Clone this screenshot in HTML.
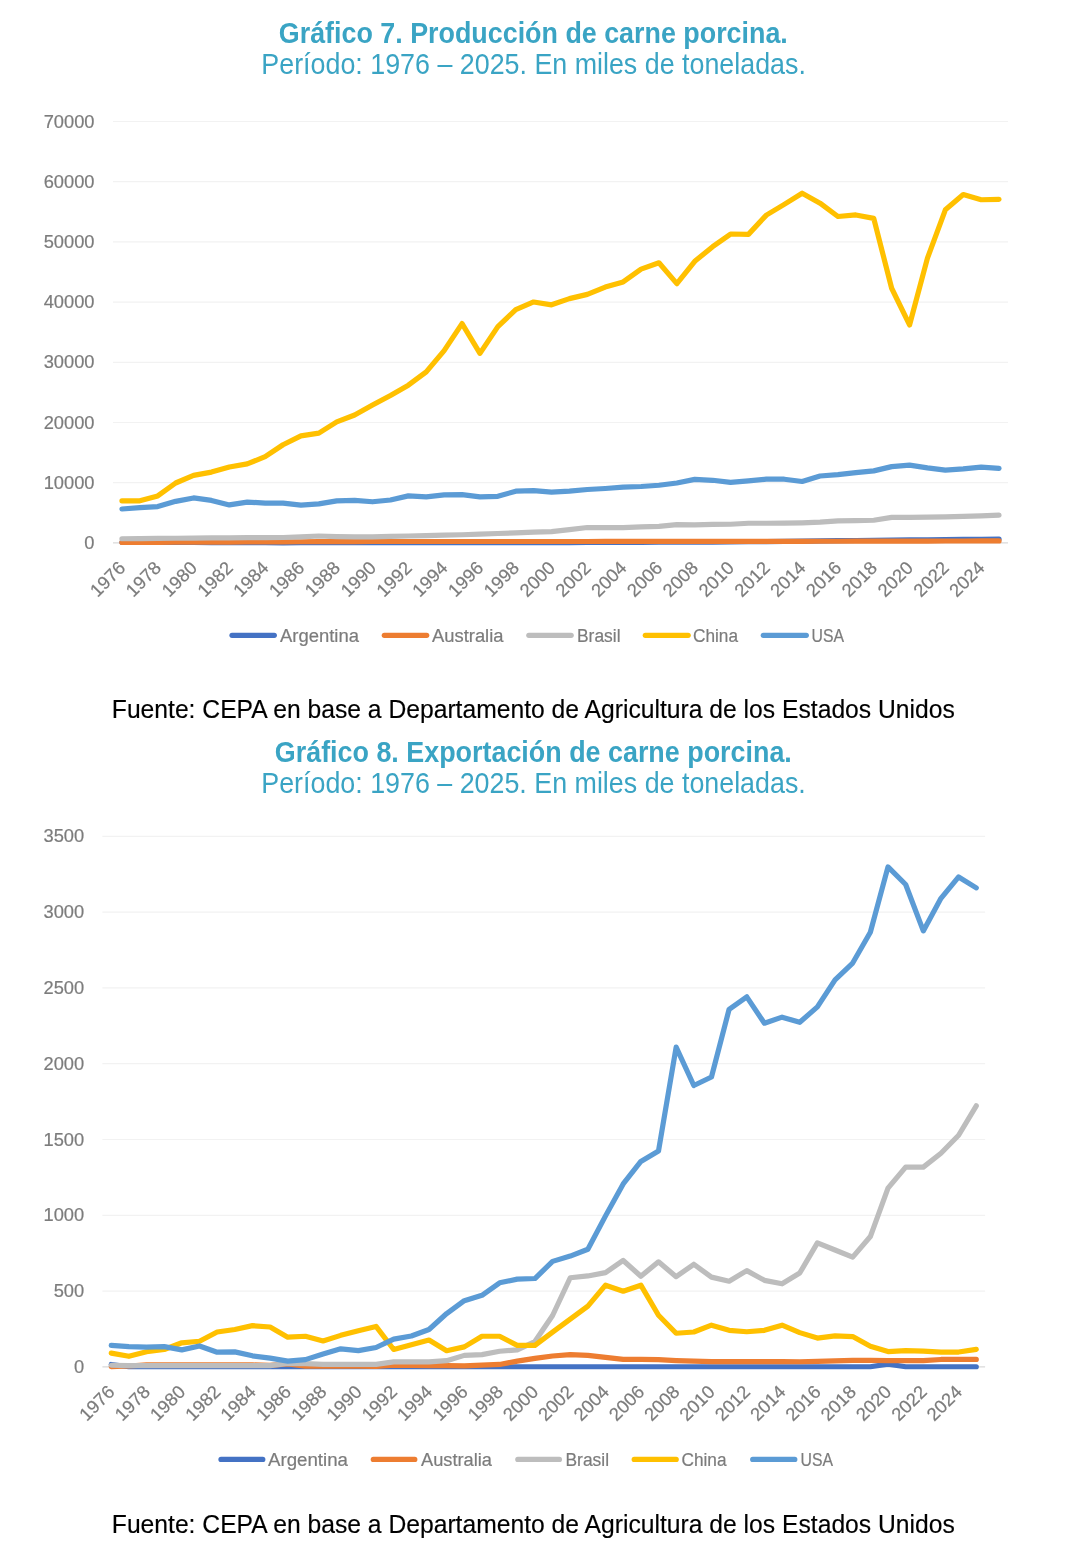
<!DOCTYPE html>
<html><head><meta charset="utf-8"><title>Gráficos carne porcina</title>
<style>html,body{margin:0;padding:0;background:#fff;} svg{display:block;will-change:transform;}</style>
</head><body>
<svg width="1072" height="1549" viewBox="0 0 1072 1549">
<style>
.t { font-family: "Liberation Sans", sans-serif; fill: #3aa4c4; }
.ax { font-family: "Liberation Sans", sans-serif; font-size: 18.3px; fill: #7c7c7c; stroke: #7c7c7c; stroke-width: 0.2px; }
.lg { font-family: "Liberation Sans", sans-serif; font-size: 18px; fill: #7c7c7c; stroke: #7c7c7c; stroke-width: 0.2px; }
.fn { font-family: "Liberation Sans", sans-serif; font-size: 24.7px; fill: #000; stroke: #000; stroke-width: 0.15px; }
</style>
<rect width="1072" height="1549" fill="#fff"/>
<text transform="translate(533.3,42.8) scale(1,1.07)" text-anchor="middle" class="t" font-weight="bold" font-size="26.7" textLength="509" lengthAdjust="spacingAndGlyphs">Gráfico 7. Producción de carne porcina.</text>
<text transform="translate(533.6,74) scale(1,1.09)" text-anchor="middle" class="t" font-size="26.9" textLength="544.5" lengthAdjust="spacingAndGlyphs">Período: 1976 – 2025. En miles de toneladas.</text>
<line x1="113" y1="542.9" x2="1008" y2="542.9" stroke="#d9d9d9" stroke-width="1.2"/>
<text x="94.5" y="548.9" text-anchor="end" class="ax">0</text>
<line x1="113" y1="482.7" x2="1008" y2="482.7" stroke="#f2f2f2" stroke-width="1.2"/>
<text x="94.5" y="488.7" text-anchor="end" class="ax">10000</text>
<line x1="113" y1="422.5" x2="1008" y2="422.5" stroke="#f2f2f2" stroke-width="1.2"/>
<text x="94.5" y="428.5" text-anchor="end" class="ax">20000</text>
<line x1="113" y1="362.3" x2="1008" y2="362.3" stroke="#f2f2f2" stroke-width="1.2"/>
<text x="94.5" y="368.3" text-anchor="end" class="ax">30000</text>
<line x1="113" y1="302.1" x2="1008" y2="302.1" stroke="#f2f2f2" stroke-width="1.2"/>
<text x="94.5" y="308.1" text-anchor="end" class="ax">40000</text>
<line x1="113" y1="241.9" x2="1008" y2="241.9" stroke="#f2f2f2" stroke-width="1.2"/>
<text x="94.5" y="247.9" text-anchor="end" class="ax">50000</text>
<line x1="113" y1="181.7" x2="1008" y2="181.7" stroke="#f2f2f2" stroke-width="1.2"/>
<text x="94.5" y="187.7" text-anchor="end" class="ax">60000</text>
<line x1="113" y1="121.5" x2="1008" y2="121.5" stroke="#f2f2f2" stroke-width="1.2"/>
<text x="94.5" y="127.5" text-anchor="end" class="ax">70000</text>
<text transform="translate(126.55,568.9) rotate(-45)" text-anchor="end" class="ax" textLength="41" lengthAdjust="spacingAndGlyphs">1976</text>
<text transform="translate(162.35,568.9) rotate(-45)" text-anchor="end" class="ax" textLength="41" lengthAdjust="spacingAndGlyphs">1978</text>
<text transform="translate(198.15,568.9) rotate(-45)" text-anchor="end" class="ax" textLength="41" lengthAdjust="spacingAndGlyphs">1980</text>
<text transform="translate(233.95,568.9) rotate(-45)" text-anchor="end" class="ax" textLength="41" lengthAdjust="spacingAndGlyphs">1982</text>
<text transform="translate(269.75,568.9) rotate(-45)" text-anchor="end" class="ax" textLength="41" lengthAdjust="spacingAndGlyphs">1984</text>
<text transform="translate(305.55,568.9) rotate(-45)" text-anchor="end" class="ax" textLength="41" lengthAdjust="spacingAndGlyphs">1986</text>
<text transform="translate(341.35,568.9) rotate(-45)" text-anchor="end" class="ax" textLength="41" lengthAdjust="spacingAndGlyphs">1988</text>
<text transform="translate(377.15,568.9) rotate(-45)" text-anchor="end" class="ax" textLength="41" lengthAdjust="spacingAndGlyphs">1990</text>
<text transform="translate(412.95,568.9) rotate(-45)" text-anchor="end" class="ax" textLength="41" lengthAdjust="spacingAndGlyphs">1992</text>
<text transform="translate(448.75,568.9) rotate(-45)" text-anchor="end" class="ax" textLength="41" lengthAdjust="spacingAndGlyphs">1994</text>
<text transform="translate(484.55,568.9) rotate(-45)" text-anchor="end" class="ax" textLength="41" lengthAdjust="spacingAndGlyphs">1996</text>
<text transform="translate(520.35,568.9) rotate(-45)" text-anchor="end" class="ax" textLength="41" lengthAdjust="spacingAndGlyphs">1998</text>
<text transform="translate(556.15,568.9) rotate(-45)" text-anchor="end" class="ax" textLength="41" lengthAdjust="spacingAndGlyphs">2000</text>
<text transform="translate(591.95,568.9) rotate(-45)" text-anchor="end" class="ax" textLength="41" lengthAdjust="spacingAndGlyphs">2002</text>
<text transform="translate(627.75,568.9) rotate(-45)" text-anchor="end" class="ax" textLength="41" lengthAdjust="spacingAndGlyphs">2004</text>
<text transform="translate(663.55,568.9) rotate(-45)" text-anchor="end" class="ax" textLength="41" lengthAdjust="spacingAndGlyphs">2006</text>
<text transform="translate(699.35,568.9) rotate(-45)" text-anchor="end" class="ax" textLength="41" lengthAdjust="spacingAndGlyphs">2008</text>
<text transform="translate(735.15,568.9) rotate(-45)" text-anchor="end" class="ax" textLength="41" lengthAdjust="spacingAndGlyphs">2010</text>
<text transform="translate(770.95,568.9) rotate(-45)" text-anchor="end" class="ax" textLength="41" lengthAdjust="spacingAndGlyphs">2012</text>
<text transform="translate(806.75,568.9) rotate(-45)" text-anchor="end" class="ax" textLength="41" lengthAdjust="spacingAndGlyphs">2014</text>
<text transform="translate(842.55,568.9) rotate(-45)" text-anchor="end" class="ax" textLength="41" lengthAdjust="spacingAndGlyphs">2016</text>
<text transform="translate(878.35,568.9) rotate(-45)" text-anchor="end" class="ax" textLength="41" lengthAdjust="spacingAndGlyphs">2018</text>
<text transform="translate(914.15,568.9) rotate(-45)" text-anchor="end" class="ax" textLength="41" lengthAdjust="spacingAndGlyphs">2020</text>
<text transform="translate(949.95,568.9) rotate(-45)" text-anchor="end" class="ax" textLength="41" lengthAdjust="spacingAndGlyphs">2022</text>
<text transform="translate(985.75,568.9) rotate(-45)" text-anchor="end" class="ax" textLength="41" lengthAdjust="spacingAndGlyphs">2024</text>
<polyline points="121.95,542.3 139.85,542.35 157.75,542.4 175.65,542.46 193.55,542.51 211.45,542.56 229.35,542.62 247.25,542.67 265.15,542.72 283.05,542.78 300.95,542.77 318.85,542.75 336.75,542.74 354.65,542.73 372.55,542.72 390.45,542.71 408.35,542.69 426.25,542.68 444.15,542.67 462.05,542.66 479.95,542.65 497.85,542.63 515.75,542.62 533.65,542.61 551.55,542.6 569.45,542.54 587.35,542.48 605.25,542.42 623.15,542.36 641.05,542.3 658.95,542.24 676.85,542.18 694.75,542.12 712.65,542.06 730.55,542 748.45,541.77 766.35,541.54 784.25,541.32 802.15,541.09 820.05,540.89 837.95,540.69 855.85,540.49 873.75,540.29 891.65,540.09 909.55,539.89 927.45,539.74 945.35,539.6 963.25,539.45 981.15,539.31 999.05,539.17" fill="none" stroke="#4472c4" stroke-width="5.2" stroke-linejoin="round" stroke-linecap="round"/>
<polyline points="121.95,542.42 139.85,542.35 157.75,542.29 175.65,542.22 193.55,542.16 211.45,542.09 229.35,542.03 247.25,541.96 265.15,541.9 283.05,541.84 300.95,541.77 318.85,541.71 336.75,541.64 354.65,541.58 372.55,541.51 390.45,541.51 408.35,541.51 426.25,541.5 444.15,541.5 462.05,541.5 479.95,541.5 497.85,541.49 515.75,541.49 533.65,541.49 551.55,541.48 569.45,541.48 587.35,541.48 605.25,541.47 623.15,541.47 641.05,541.47 658.95,541.47 676.85,541.46 694.75,541.46 712.65,541.46 730.55,541.45 748.45,541.42 766.35,541.38 784.25,541.34 802.15,541.31 820.05,541.27 837.95,541.24 855.85,541.2 873.75,541.16 891.65,541.13 909.55,541.09 927.45,541.06 945.35,541.02 963.25,540.98 981.15,540.95 999.05,540.91" fill="none" stroke="#ed7d31" stroke-width="5.2" stroke-linejoin="round" stroke-linecap="round"/>
<polyline points="121.95,538.74 139.85,538.58 157.75,538.41 175.65,538.25 193.55,538.08 211.45,537.96 229.35,537.84 247.25,537.72 265.15,537.6 283.05,537.48 300.95,536.88 318.85,535.98 336.75,536.58 354.65,536.88 372.55,536.88 390.45,536.4 408.35,535.99 426.25,535.58 444.15,535.18 462.05,534.77 479.95,534.13 497.85,533.49 515.75,532.86 533.65,532.22 551.55,531.58 569.45,529.59 587.35,527.49 605.25,527.67 623.15,527.55 641.05,526.88 658.95,526.34 676.85,524.6 694.75,524.84 712.65,524.3 730.55,524.24 748.45,523.27 766.35,523.27 784.25,523.15 802.15,522.79 820.05,522.07 837.95,520.8 855.85,520.62 873.75,520.26 891.65,517.43 909.55,517.31 927.45,517.13 945.35,516.83 963.25,516.41 981.15,515.81 999.05,515.09" fill="none" stroke="#bdbdbd" stroke-width="5.2" stroke-linejoin="round" stroke-linecap="round"/>
<polyline points="121.95,500.82 139.85,500.82 157.75,495.94 175.65,483 193.55,475.41 211.45,472.1 229.35,467.05 247.25,463.92 265.15,456.69 283.05,444.77 300.95,435.86 318.85,433.09 336.75,421.9 354.65,414.97 372.55,405.04 390.45,395.47 408.35,385.17 426.25,371.87 444.15,350.62 462.05,323.59 479.95,353.33 497.85,326.6 515.75,309.62 533.65,301.98 551.55,304.81 569.45,298.61 587.35,294.39 605.25,287.05 623.15,281.93 641.05,269.11 658.95,262.79 676.85,283.68 694.75,261.28 712.65,246.71 730.55,234.01 748.45,234.37 766.35,215.11 784.25,204.39 802.15,193.2 820.05,203.19 837.95,216.49 855.85,214.93 873.75,218.42 891.65,288.25 909.55,324.97 927.45,258.15 945.35,209.81 963.25,194.58 981.15,199.76 999.05,199.28" fill="none" stroke="#ffc000" stroke-width="5.2" stroke-linejoin="round" stroke-linecap="round"/>
<polyline points="121.95,509.01 139.85,507.62 157.75,506.6 175.65,501.36 193.55,497.93 211.45,500.4 229.35,504.91 247.25,502.08 265.15,503.11 283.05,503.11 300.95,505.09 318.85,503.89 336.75,500.82 354.65,500.4 372.55,501.78 390.45,499.98 408.35,495.88 426.25,496.91 444.15,494.86 462.05,494.68 479.95,496.91 497.85,496.3 515.75,491.19 533.65,490.58 551.55,492.21 569.45,491.19 587.35,489.5 605.25,488.48 623.15,487.09 641.05,486.49 658.95,485.23 676.85,483 694.75,479.33 712.65,480.29 730.55,482.4 748.45,480.89 766.35,479.21 784.25,479.21 802.15,481.49 820.05,476.02 837.95,474.69 855.85,472.7 873.75,470.9 891.65,466.62 909.55,465.12 927.45,467.89 945.35,470.18 963.25,468.91 981.15,467.11 999.05,468.43" fill="none" stroke="#5b9bd5" stroke-width="5.2" stroke-linejoin="round" stroke-linecap="round"/>
<line x1="232" y1="635.3" x2="274.3" y2="635.3" stroke="#4472c4" stroke-width="5.2" stroke-linecap="round"/>
<text x="280" y="642.3" class="lg" textLength="79" lengthAdjust="spacingAndGlyphs">Argentina</text>
<line x1="384.3" y1="635.3" x2="426.7" y2="635.3" stroke="#ed7d31" stroke-width="5.2" stroke-linecap="round"/>
<text x="432" y="642.3" class="lg" textLength="71.5" lengthAdjust="spacingAndGlyphs">Australia</text>
<line x1="528.8" y1="635.3" x2="571.2" y2="635.3" stroke="#bdbdbd" stroke-width="5.2" stroke-linecap="round"/>
<text x="577" y="642.3" class="lg" textLength="43.5" lengthAdjust="spacingAndGlyphs">Brasil</text>
<line x1="645.3" y1="635.3" x2="688.2" y2="635.3" stroke="#ffc000" stroke-width="5.2" stroke-linecap="round"/>
<text x="693" y="642.3" class="lg" textLength="45" lengthAdjust="spacingAndGlyphs">China</text>
<line x1="763.3" y1="635.3" x2="806.3" y2="635.3" stroke="#5b9bd5" stroke-width="5.2" stroke-linecap="round"/>
<text x="811.5" y="642.3" class="lg" textLength="32.5" lengthAdjust="spacingAndGlyphs">USA</text>
<text transform="translate(533.3,717.8) scale(1,1.05)" text-anchor="middle" class="fn" textLength="843" lengthAdjust="spacingAndGlyphs">Fuente: CEPA en base a Departamento de Agricultura de los Estados Unidos</text>
<text transform="translate(533.3,761.9) scale(1,1.07)" text-anchor="middle" class="t" font-weight="bold" font-size="26.7" textLength="517" lengthAdjust="spacingAndGlyphs">Gráfico 8. Exportación de carne porcina.</text>
<text transform="translate(533.5,792.8) scale(1,1.09)" text-anchor="middle" class="t" font-size="26.9" textLength="544.5" lengthAdjust="spacingAndGlyphs">Período: 1976 – 2025. En miles de toneladas.</text>
<line x1="102.4" y1="1366.9" x2="985.1" y2="1366.9" stroke="#d9d9d9" stroke-width="1.2"/>
<text x="84.2" y="1372.9" text-anchor="end" class="ax">0</text>
<line x1="102.4" y1="1291.1" x2="985.1" y2="1291.1" stroke="#f2f2f2" stroke-width="1.2"/>
<text x="84.2" y="1297.1" text-anchor="end" class="ax">500</text>
<line x1="102.4" y1="1215.3" x2="985.1" y2="1215.3" stroke="#f2f2f2" stroke-width="1.2"/>
<text x="84.2" y="1221.3" text-anchor="end" class="ax">1000</text>
<line x1="102.4" y1="1139.5" x2="985.1" y2="1139.5" stroke="#f2f2f2" stroke-width="1.2"/>
<text x="84.2" y="1145.5" text-anchor="end" class="ax">1500</text>
<line x1="102.4" y1="1063.7" x2="985.1" y2="1063.7" stroke="#f2f2f2" stroke-width="1.2"/>
<text x="84.2" y="1069.7" text-anchor="end" class="ax">2000</text>
<line x1="102.4" y1="987.9" x2="985.1" y2="987.9" stroke="#f2f2f2" stroke-width="1.2"/>
<text x="84.2" y="993.9" text-anchor="end" class="ax">2500</text>
<line x1="102.4" y1="912.1" x2="985.1" y2="912.1" stroke="#f2f2f2" stroke-width="1.2"/>
<text x="84.2" y="918.1" text-anchor="end" class="ax">3000</text>
<line x1="102.4" y1="836.3" x2="985.1" y2="836.3" stroke="#f2f2f2" stroke-width="1.2"/>
<text x="84.2" y="842.3" text-anchor="end" class="ax">3500</text>
<text transform="translate(115.83,1392.9) rotate(-45)" text-anchor="end" class="ax" textLength="41" lengthAdjust="spacingAndGlyphs">1976</text>
<text transform="translate(151.13,1392.9) rotate(-45)" text-anchor="end" class="ax" textLength="41" lengthAdjust="spacingAndGlyphs">1978</text>
<text transform="translate(186.44,1392.9) rotate(-45)" text-anchor="end" class="ax" textLength="41" lengthAdjust="spacingAndGlyphs">1980</text>
<text transform="translate(221.75,1392.9) rotate(-45)" text-anchor="end" class="ax" textLength="41" lengthAdjust="spacingAndGlyphs">1982</text>
<text transform="translate(257.06,1392.9) rotate(-45)" text-anchor="end" class="ax" textLength="41" lengthAdjust="spacingAndGlyphs">1984</text>
<text transform="translate(292.37,1392.9) rotate(-45)" text-anchor="end" class="ax" textLength="41" lengthAdjust="spacingAndGlyphs">1986</text>
<text transform="translate(327.68,1392.9) rotate(-45)" text-anchor="end" class="ax" textLength="41" lengthAdjust="spacingAndGlyphs">1988</text>
<text transform="translate(362.98,1392.9) rotate(-45)" text-anchor="end" class="ax" textLength="41" lengthAdjust="spacingAndGlyphs">1990</text>
<text transform="translate(398.29,1392.9) rotate(-45)" text-anchor="end" class="ax" textLength="41" lengthAdjust="spacingAndGlyphs">1992</text>
<text transform="translate(433.6,1392.9) rotate(-45)" text-anchor="end" class="ax" textLength="41" lengthAdjust="spacingAndGlyphs">1994</text>
<text transform="translate(468.91,1392.9) rotate(-45)" text-anchor="end" class="ax" textLength="41" lengthAdjust="spacingAndGlyphs">1996</text>
<text transform="translate(504.22,1392.9) rotate(-45)" text-anchor="end" class="ax" textLength="41" lengthAdjust="spacingAndGlyphs">1998</text>
<text transform="translate(539.52,1392.9) rotate(-45)" text-anchor="end" class="ax" textLength="41" lengthAdjust="spacingAndGlyphs">2000</text>
<text transform="translate(574.83,1392.9) rotate(-45)" text-anchor="end" class="ax" textLength="41" lengthAdjust="spacingAndGlyphs">2002</text>
<text transform="translate(610.14,1392.9) rotate(-45)" text-anchor="end" class="ax" textLength="41" lengthAdjust="spacingAndGlyphs">2004</text>
<text transform="translate(645.45,1392.9) rotate(-45)" text-anchor="end" class="ax" textLength="41" lengthAdjust="spacingAndGlyphs">2006</text>
<text transform="translate(680.75,1392.9) rotate(-45)" text-anchor="end" class="ax" textLength="41" lengthAdjust="spacingAndGlyphs">2008</text>
<text transform="translate(716.06,1392.9) rotate(-45)" text-anchor="end" class="ax" textLength="41" lengthAdjust="spacingAndGlyphs">2010</text>
<text transform="translate(751.37,1392.9) rotate(-45)" text-anchor="end" class="ax" textLength="41" lengthAdjust="spacingAndGlyphs">2012</text>
<text transform="translate(786.68,1392.9) rotate(-45)" text-anchor="end" class="ax" textLength="41" lengthAdjust="spacingAndGlyphs">2014</text>
<text transform="translate(821.99,1392.9) rotate(-45)" text-anchor="end" class="ax" textLength="41" lengthAdjust="spacingAndGlyphs">2016</text>
<text transform="translate(857.29,1392.9) rotate(-45)" text-anchor="end" class="ax" textLength="41" lengthAdjust="spacingAndGlyphs">2018</text>
<text transform="translate(892.6,1392.9) rotate(-45)" text-anchor="end" class="ax" textLength="41" lengthAdjust="spacingAndGlyphs">2020</text>
<text transform="translate(927.91,1392.9) rotate(-45)" text-anchor="end" class="ax" textLength="41" lengthAdjust="spacingAndGlyphs">2022</text>
<text transform="translate(963.22,1392.9) rotate(-45)" text-anchor="end" class="ax" textLength="41" lengthAdjust="spacingAndGlyphs">2024</text>
<polyline points="111.23,1364.47 128.88,1366.74 146.53,1366.74 164.19,1366.74 181.84,1366.74 199.5,1366.74 217.15,1366.74 234.81,1366.74 252.46,1366.74 270.11,1366.74 287.77,1366.74 305.42,1366.74 323.08,1366.74 340.73,1366.74 358.38,1366.74 376.04,1366.74 393.69,1366.74 411.35,1366.74 429,1366.74 446.65,1366.74 464.31,1366.74 481.96,1366.74 499.62,1366.74 517.27,1366.74 534.92,1366.74 552.58,1366.74 570.23,1366.74 587.88,1366.74 605.54,1366.74 623.19,1366.74 640.85,1366.74 658.5,1366.74 676.15,1366.74 693.81,1366.74 711.46,1366.74 729.12,1366.74 746.77,1366.74 764.42,1366.74 782.08,1366.74 799.73,1366.74 817.39,1366.74 835.04,1366.74 852.69,1366.74 870.35,1366.74 888,1364.16 905.66,1366.74 923.31,1366.74 940.96,1366.74 958.62,1366.74 976.27,1366.74" fill="none" stroke="#4472c4" stroke-width="5.2" stroke-linejoin="round" stroke-linecap="round"/>
<polyline points="111.23,1366.74 128.88,1365.98 146.53,1364.92 164.19,1364.92 181.84,1364.92 199.5,1364.92 217.15,1364.92 234.81,1364.92 252.46,1364.92 270.11,1365.38 287.77,1363.86 305.42,1366.14 323.08,1366.17 340.73,1366.21 358.38,1366.25 376.04,1366.29 393.69,1365.23 411.35,1365.38 429,1365.53 446.65,1365.68 464.31,1365.83 481.96,1365.15 499.62,1364.47 517.27,1361.13 534.92,1358.4 552.58,1355.98 570.23,1354.61 587.88,1355.37 605.54,1357.34 623.19,1359.31 640.85,1359.31 658.5,1359.62 676.15,1360.53 693.81,1361.13 711.46,1361.59 729.12,1361.62 746.77,1361.65 764.42,1361.68 782.08,1361.71 799.73,1361.74 817.39,1361.28 835.04,1360.83 852.69,1360.37 870.35,1360.45 888,1360.53 905.66,1360.6 923.31,1360.68 940.96,1359.47 958.62,1359.47 976.27,1359.47" fill="none" stroke="#ed7d31" stroke-width="5.2" stroke-linejoin="round" stroke-linecap="round"/>
<polyline points="111.23,1365.23 128.88,1365.68 146.53,1365.68 164.19,1365.68 181.84,1365.68 199.5,1365.68 217.15,1365.68 234.81,1365.68 252.46,1365.68 270.11,1365.68 287.77,1363.41 305.42,1363.71 323.08,1364.32 340.73,1364.32 358.38,1364.32 376.04,1364.32 393.69,1361.89 411.35,1361.89 429,1361.89 446.65,1360.68 464.31,1355.37 481.96,1354.61 499.62,1351.28 517.27,1349.91 534.92,1341.58 552.58,1315.5 570.23,1277.75 587.88,1275.93 605.54,1272.6 623.19,1260.47 640.85,1276.24 658.5,1261.83 676.15,1276.69 693.81,1264.26 711.46,1277.15 729.12,1281.24 746.77,1270.63 764.42,1280.33 782.08,1283.82 799.73,1273.05 817.39,1242.88 835.04,1250.01 852.69,1257.14 870.35,1236.52 888,1188.16 905.66,1167.08 923.31,1167.08 940.96,1153.29 958.62,1135.25 976.27,1105.84" fill="none" stroke="#bdbdbd" stroke-width="5.2" stroke-linejoin="round" stroke-linecap="round"/>
<polyline points="111.23,1353.1 128.88,1356.28 146.53,1351.73 164.19,1349.46 181.84,1342.79 199.5,1341.27 217.15,1332.03 234.81,1329.45 252.46,1325.66 270.11,1327.02 287.77,1337.18 305.42,1336.27 323.08,1340.97 340.73,1335.36 358.38,1330.66 376.04,1326.42 393.69,1349.46 411.35,1344.76 429,1340.06 446.65,1350.67 464.31,1346.88 481.96,1336.27 499.62,1336.27 517.27,1345.37 534.92,1345.37 552.58,1332.18 570.23,1319.14 587.88,1306.1 605.54,1285.18 623.19,1291.25 640.85,1285.18 658.5,1315.2 676.15,1333.24 693.81,1332.03 711.46,1325.2 729.12,1330.36 746.77,1331.72 764.42,1330.36 782.08,1325.2 799.73,1332.63 817.39,1338.09 835.04,1335.82 852.69,1336.57 870.35,1346.28 888,1351.58 905.66,1350.67 923.31,1351.13 940.96,1352.19 958.62,1352.04 976.27,1349.31" fill="none" stroke="#ffc000" stroke-width="5.2" stroke-linejoin="round" stroke-linecap="round"/>
<polyline points="111.23,1345.37 128.88,1346.58 146.53,1347.19 164.19,1346.58 181.84,1349.91 199.5,1345.97 217.15,1352.19 234.81,1351.89 252.46,1355.83 270.11,1358.1 287.77,1361.13 305.42,1359.62 323.08,1354.01 340.73,1348.85 358.38,1350.67 376.04,1347.49 393.69,1339.15 411.35,1335.97 429,1329.45 446.65,1313.53 464.31,1300.64 481.96,1295.34 499.62,1282.76 517.27,1279.12 534.92,1278.51 552.58,1261.38 570.23,1256.07 587.88,1249.25 605.54,1215.9 623.19,1183.91 640.85,1161.48 658.5,1151.02 676.15,1047.17 693.81,1085.52 711.46,1077.03 729.12,1009.27 746.77,996.84 764.42,1023.22 782.08,1017.15 799.73,1022.31 817.39,1006.84 835.04,979.86 852.69,963.03 870.35,932.26 888,866.92 905.66,884.5 923.31,930.89 940.96,898.3 958.62,876.92 976.27,887.84" fill="none" stroke="#5b9bd5" stroke-width="5.2" stroke-linejoin="round" stroke-linecap="round"/>
<line x1="221" y1="1459.4" x2="262.8" y2="1459.4" stroke="#4472c4" stroke-width="5.2" stroke-linecap="round"/>
<text x="268" y="1466.4" class="lg" textLength="80" lengthAdjust="spacingAndGlyphs">Argentina</text>
<line x1="373.3" y1="1459.4" x2="414.8" y2="1459.4" stroke="#ed7d31" stroke-width="5.2" stroke-linecap="round"/>
<text x="421" y="1466.4" class="lg" textLength="71" lengthAdjust="spacingAndGlyphs">Australia</text>
<line x1="517.8" y1="1459.4" x2="559.4" y2="1459.4" stroke="#bdbdbd" stroke-width="5.2" stroke-linecap="round"/>
<text x="565.5" y="1466.4" class="lg" textLength="43.5" lengthAdjust="spacingAndGlyphs">Brasil</text>
<line x1="634.2" y1="1459.4" x2="676.2" y2="1459.4" stroke="#ffc000" stroke-width="5.2" stroke-linecap="round"/>
<text x="681.5" y="1466.4" class="lg" textLength="45" lengthAdjust="spacingAndGlyphs">China</text>
<line x1="752.7" y1="1459.4" x2="794.8" y2="1459.4" stroke="#5b9bd5" stroke-width="5.2" stroke-linecap="round"/>
<text x="800.5" y="1466.4" class="lg" textLength="32.5" lengthAdjust="spacingAndGlyphs">USA</text>
<text transform="translate(533.3,1532.8) scale(1,1.05)" text-anchor="middle" class="fn" textLength="843" lengthAdjust="spacingAndGlyphs">Fuente: CEPA en base a Departamento de Agricultura de los Estados Unidos</text>
</svg>
</body></html>
